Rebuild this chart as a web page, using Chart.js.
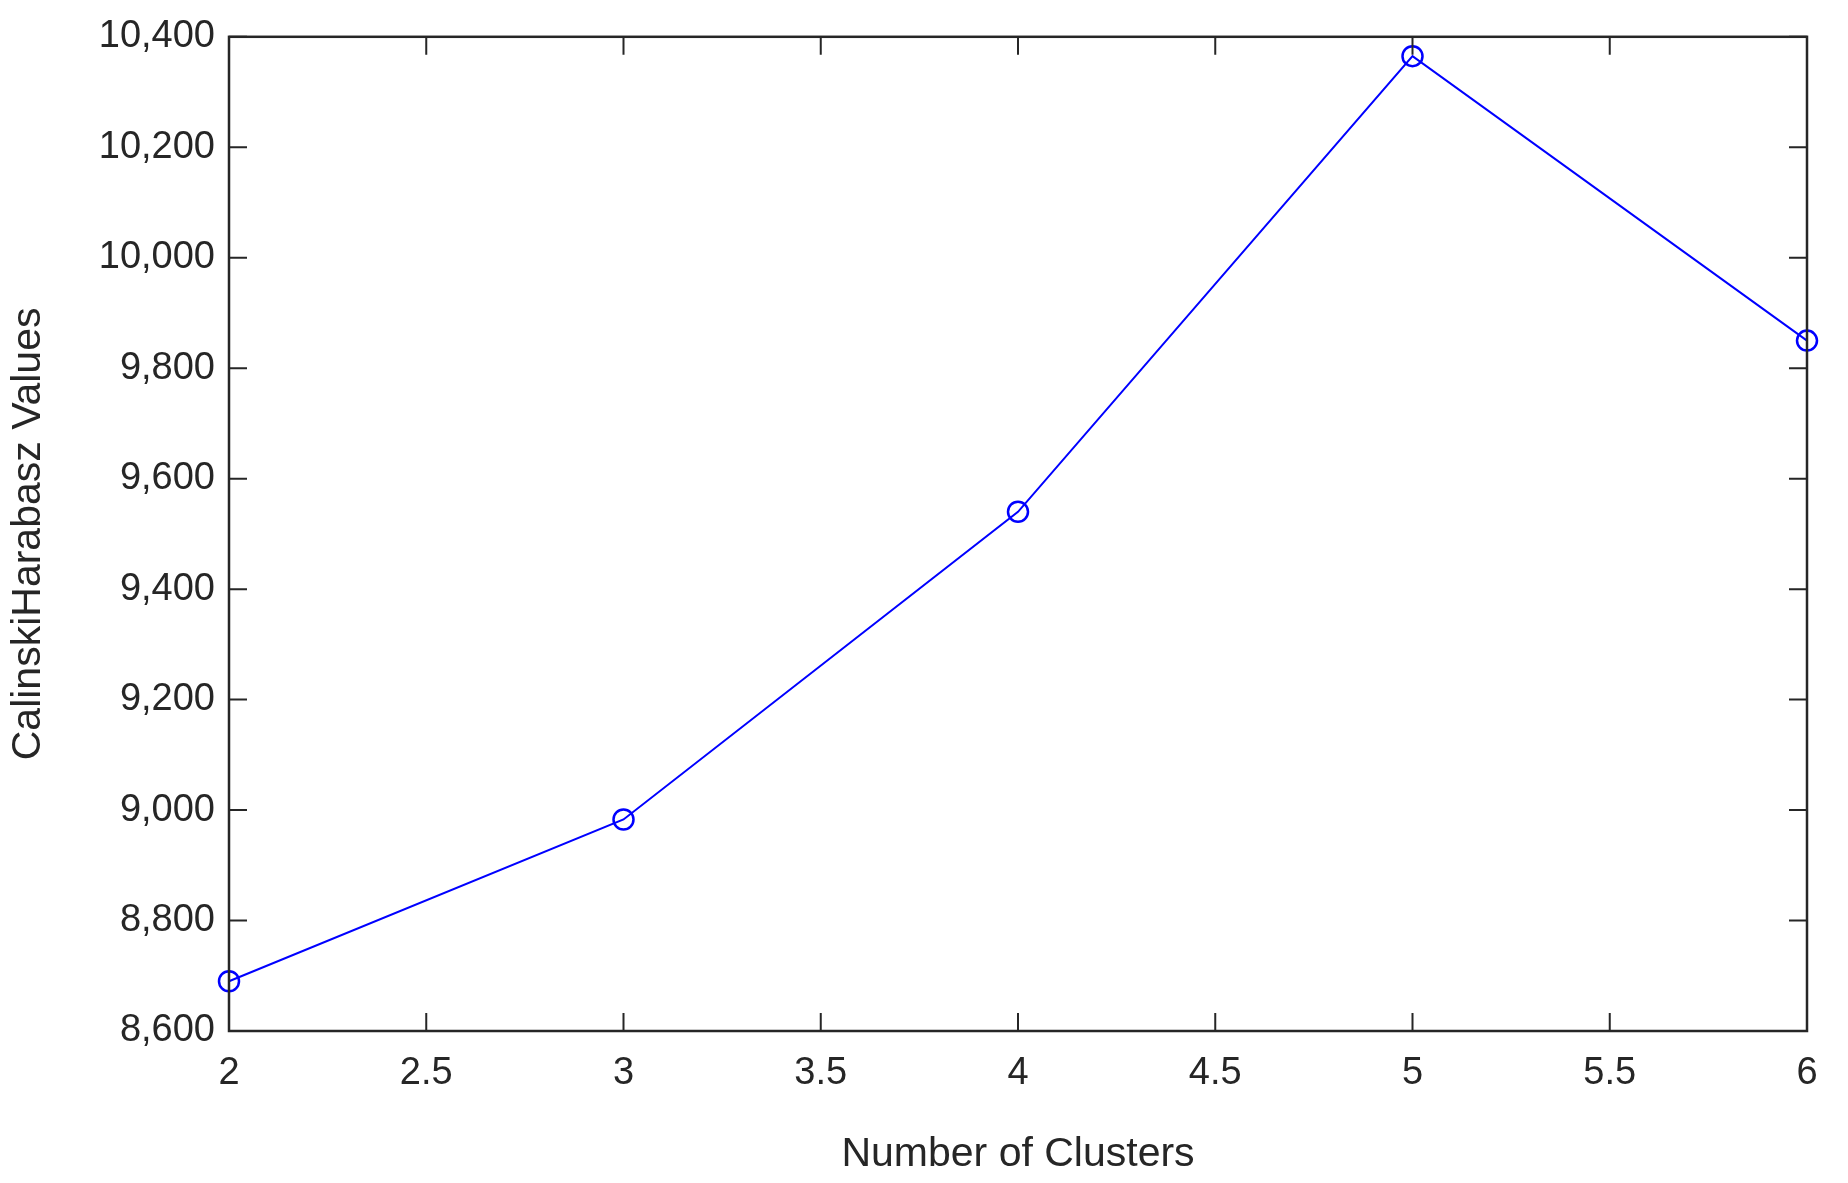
<!DOCTYPE html>
<html>
<head>
<meta charset="utf-8">
<script src="https://cdn.jsdelivr.net/npm/chart.js@4"></script>
<style>
  html, body { margin: 0; padding: 0; background: #fff; }
  #wrap { width: 1848px; height: 1183px; }
</style>
</head>
<body>
<div id="wrap"><canvas id="c"></canvas></div>
<script>
const clusters = [2, 3, 4, 5, 6];
const chValues = [8690, 8983, 9540, 10365, 9850];
const xTicks = [2, 2.5, 3, 3.5, 4, 4.5, 5, 5.5, 6];
const yTicks = [8600, 8800, 9000, 9200, 9400, 9600, 9800, 10000, 10200, 10400];

const axisColor = '#262626';
const font = { family: 'Liberation Sans, Arial, sans-serif', size: 38 };

// MATLAB-style box with inward ticks on all four sides
const boxTicks = {
  id: 'boxTicks',
  afterDraw(chart) {
    const { ctx, chartArea: a, scales: { x, y } } = chart;
    const len = 18;
    ctx.save();
    ctx.strokeStyle = axisColor;
    ctx.lineWidth = 2.5;
    ctx.strokeRect(a.left, a.top, a.right - a.left, a.bottom - a.top);
    ctx.lineWidth = 2;
    ctx.beginPath();
    xTicks.forEach(v => {
      const px = x.getPixelForValue(v);
      ctx.moveTo(px, a.bottom); ctx.lineTo(px, a.bottom - len);
      ctx.moveTo(px, a.top); ctx.lineTo(px, a.top + len);
    });
    yTicks.forEach(v => {
      const py = y.getPixelForValue(v);
      ctx.moveTo(a.left, py); ctx.lineTo(a.left + len, py);
      ctx.moveTo(a.right, py); ctx.lineTo(a.right - len, py);
    });
    ctx.stroke();
    ctx.restore();
  }
};

new Chart(document.getElementById('c'), {
  type: 'line',
  data: {
    datasets: [{
      data: clusters.map((c, i) => ({ x: c, y: chValues[i] })),
      borderColor: '#0000ff',
      borderWidth: 2,
      pointStyle: 'circle',
      pointRadius: 10,
      pointBorderWidth: 2.5,
      pointBorderColor: '#0000ff',
      pointBackgroundColor: 'rgba(0,0,0,0)',
      tension: 0,
      clip: false
    }]
  },
  options: {
    responsive: true,
    maintainAspectRatio: false,
    animation: false,
    layout: { padding: { top: 30, right: 41, left: 0, bottom: 0 } },
    plugins: { legend: { display: false }, tooltip: { enabled: false } },
    scales: {
      x: {
        type: 'linear',
        min: 2, max: 6,
        afterBuildTicks: s => { s.ticks = xTicks.map(v => ({ value: v })); },
        afterFit: s => { s.height = 152; },
        grid: { display: false, drawTicks: false },
        border: { display: false },
        ticks: { color: axisColor, font, padding: 20, maxRotation: 0, callback: v => String(v) },
        title: { display: true, text: 'Number of Clusters', color: axisColor, font: { ...font, size: 41 }, padding: { top: 12 } }
      },
      y: {
        type: 'linear',
        min: 8600, max: 10400,
        afterBuildTicks: s => { s.ticks = yTicks.map(v => ({ value: v })); },
        afterFit: s => { s.width = 229; },
        grid: { display: false, drawTicks: false },
        border: { display: false },
        ticks: { color: axisColor, font, padding: 14, callback: v => v.toLocaleString('en-US') },
        title: { display: true, text: 'CalinskiHarabasz Values', color: axisColor, font: { ...font, size: 41 }, padding: { bottom: 0 } }
      }
    }
  },
  plugins: [boxTicks]
});
</script>
</body>
</html>
